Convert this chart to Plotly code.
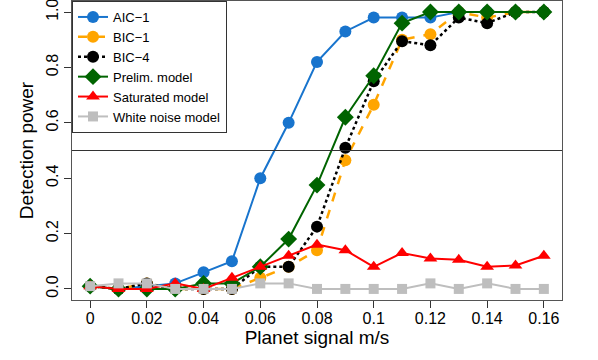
import plotly.graph_objects as go

signal = [0, 0.01, 0.02, 0.03, 0.04, 0.05, 0.06, 0.07, 0.08, 0.09, 0.10, 0.11, 0.12, 0.13, 0.14, 0.15, 0.16]

aic1 = [0.01, 0.00, 0.01, 0.02, 0.06, 0.10, 0.40, 0.60, 0.82, 0.93, 0.98, 0.98, 0.98, 1.00, 1.00, 1.00, 1.00]
bic1 = [0.01, 0.00, 0.02, 0.00, 0.00, 0.00, 0.04, 0.08, 0.14, 0.465, 0.665, 0.90, 0.92, 1.00, 0.98, 1.00, 1.00]
bic4 = [0.01, 0.00, 0.02, 0.00, 0.00, 0.00, 0.08, 0.08, 0.225, 0.51, 0.75, 0.895, 0.88, 0.98, 0.96, 1.00, 1.00]
prelim = [0.01, 0.00, 0.00, 0.00, 0.02, 0.02, 0.08, 0.18, 0.375, 0.62, 0.77, 0.96, 1.00, 1.00, 1.00, 1.00, 1.00]
saturated = [0.01, 0.00, 0.00, 0.02, 0.00, 0.04, 0.08, 0.12, 0.16, 0.14, 0.08, 0.13, 0.11, 0.105, 0.08, 0.085, 0.12]
white = [0.01, 0.02, 0.02, 0.00, 0.00, 0.00, 0.02, 0.02, 0.00, 0.00, 0.00, 0.00, 0.02, 0.00, 0.02, 0.00, 0.00]

x_ticks = [0, 0.02, 0.04, 0.06, 0.08, 0.10, 0.12, 0.14, 0.16]
x_labels = ["0", "0.02", "0.04", "0.06", "0.08", "0.1", "0.12", "0.14", "0.16"]
y_ticks = [0.0, 0.2, 0.4, 0.6, 0.8, 1.0]
y_labels = ["0.0", "0.2", "0.4", "0.6", "0.8", "1.0"]
threshold = 0.5

series = [
    ("AIC\u22121", aic1, "#1874CD", "solid", 2, "circle", 12),
    ("BIC\u22121", bic1, "#FFA500", "dash", 2.5, "circle", 12),
    ("BIC\u22124", bic4, "black", "dot", 2.5, "circle", 12),
    ("Prelim. model", prelim, "#006400", "solid", 2, "diamond", 13),
    ("Saturated model", saturated, "#FF0000", "solid", 2, "triangle-up", 12),
    ("White noise model", white, "#BEBEBE", "solid", 2, "square", 10),
]

fig = go.Figure()
for name, ys, col, dash, w, sym, sz in series:
    fig.add_trace(go.Scatter(
        x=signal, y=ys, name=name, mode="lines+markers",
        line=dict(color=col, dash=dash, width=w),
        marker=dict(color=col, symbol=sym, size=sz, line=dict(width=0)),
    ))

fig.add_shape(type="line", xref="paper", x0=0, x1=1, yref="y", y0=threshold, y1=threshold,
              line=dict(color="#333333", width=1))

font = "Liberation Sans, Arial, Helvetica, sans-serif"
fig.update_layout(
    width=598, height=360,
    margin=dict(l=72, r=36, t=1, b=60, autoexpand=False),
    paper_bgcolor="white", plot_bgcolor="white",
    font=dict(family=font, color="black", size=14),
    showlegend=True,
    legend=dict(x=0, y=1, xanchor="left", yanchor="top", traceorder="normal",
                bgcolor="white", bordercolor="#333333", borderwidth=1,
                font=dict(size=13, family=font), tracegroupgap=0,
                itemwidth=30),
    xaxis=dict(range=[-0.0064, 0.1664], tickvals=x_ticks, ticktext=x_labels,
               ticks="outside", ticklen=7, tickcolor="#333333", automargin=False,
               ticklabeloverflow="allow", ticklabelstandoff=-3,
               showline=True, linecolor="#555555", mirror=True, linewidth=1,
               showgrid=False, zeroline=False,
               tickfont=dict(size=16),
               title=dict(text="Planet signal m/s", font=dict(size=19), standoff=0)),
    yaxis=dict(range=[-0.04, 1.04], tickvals=y_ticks, ticktext=y_labels,
               ticks="outside", ticklen=7, tickcolor="#333333", tickangle=-90,
               automargin=False, ticklabeloverflow="allow",
               showline=True, linecolor="#555555", mirror=True, linewidth=1,
               showgrid=False, zeroline=False,
               tickfont=dict(size=16),
               title=dict(text="Detection power", font=dict(size=19), standoff=4)),
)

fig.write_html("out.html", config={"displayModeBar": False},
               post_script="document.body.style.margin='0';")
